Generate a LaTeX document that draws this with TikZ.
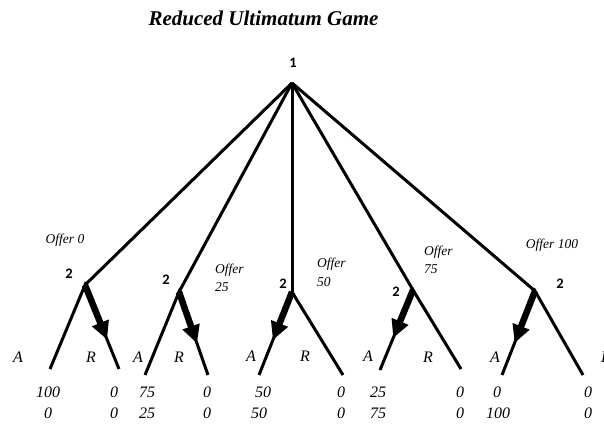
\documentclass[tikz,border=0pt]{standalone}
\usepackage{fontspec}
\setmainfont{Liberation Serif}
\newfontfamily\numfont{Carlito}
\usetikzlibrary{arrows.meta,calc}
\begin{document}
\begin{tikzpicture}[x=1pt,y=-1pt,
  branch/.style={line width=3pt},
  choice/.style={line width=6.5pt,-{Triangle[length=18pt,width=17pt]}},
  player/.style={font=\numfont\bfseries\fontsize{14.5}{16}\selectfont,inner sep=0pt},
  act/.style={font=\itshape\fontsize{16}{18}\selectfont,inner sep=0pt},
  pay/.style={font=\itshape\fontsize{16}{18}\selectfont,inner sep=0pt},
  offer/.style={font=\itshape\fontsize{13.5}{17}\selectfont,inner sep=0pt},
  titlestyle/.style={font=\bfseries\itshape\fontsize{21}{24}\selectfont,inner sep=0pt}]
\useasboundingbox (0,0) rectangle (604,423);

\node[titlestyle] (title) at (263.5,18) {Reduced Ultimatum Game};

% root
\coordinate (r) at (292,83);
\node[player] (l1) at (293,63) {1};

% player 2 decision points
\coordinate (p1) at (85,285);
\coordinate (p2) at (179,292);
\coordinate (p3) at (292,292);
\coordinate (p4) at (413,290);
\coordinate (p5) at (535,291);

% leaves
\coordinate (a1) at (50,369);  \coordinate (b1) at (119,369);
\coordinate (a2) at (145,375); \coordinate (b2) at (208,375);
\coordinate (a3) at (259,375); \coordinate (b3) at (343,375);
\coordinate (a4) at (380,370); \coordinate (b4) at (461,369);
\coordinate (a5) at (502,375); \coordinate (b5) at (583,375);

\foreach \i in {1,...,5}{
  \draw[branch] (r) -- (p\i);
  \draw[branch] (a\i) -- (p\i) -- (b\i);
}

% chosen responses
\draw[choice] (p1) -- ($(p1)!0.65!(b1)$);
\draw[choice] (p2) -- ($(p2)!0.62!(b2)$);
\draw[choice] (p3) -- ($(p3)!0.58!(a3)$);
\draw[choice] (p4) -- ($(p4)!0.60!(a4)$);
\draw[choice] (p5) -- ($(p5)!0.62!(a5)$);

% player labels
\node[player] (q1) at (69,274) {2};
\node[player] (q2) at (166,280) {2};
\node[player] (q3) at (283,284) {2};
\node[player] (q4) at (396,292) {2};
\node[player] (q5) at (560,284) {2};

% offer labels
\node[offer] (o1) at (65,240) {Offer 0};
\node[offer,anchor=west] (o2a) at (215,270) {Offer};
\node[offer,anchor=west] (o2b) at (215,287) {25};
\node[offer,anchor=west] (o3a) at (317,264) {Offer};
\node[offer,anchor=west] (o3b) at (317,282) {50};
\node[offer,anchor=west] (o4a) at (424,252) {Offer};
\node[offer,anchor=west] (o4b) at (424,269) {75};
\node[offer] (o5) at (552,245) {Offer 100};

% actions
\node[act] (A1) at (18,357) {A};  \node[act] (R1) at (91,357) {R};
\node[act] (A2) at (138,357) {A}; \node[act] (R2) at (179,357) {R};
\node[act] (A3) at (251,356) {A}; \node[act] (R3) at (305,356) {R};
\node[act] (A4) at (368,356) {A}; \node[act] (R4) at (428,357) {R};
\node[act] (A5) at (495,357) {A}; \node[act] (R5) at (606,357) {R};

% payoffs
\node[pay] (x1) at (48,392) {100}; \node[pay] (y1) at (48,413) {0};
\node[pay] (x2) at (114,392) {0};  \node[pay] (y2) at (114,413) {0};
\node[pay] (x3) at (147,392) {75}; \node[pay] (y3) at (147,413) {25};
\node[pay] (x4) at (207,392) {0};  \node[pay] (y4) at (207,413) {0};
\node[pay] (x5) at (263,392) {50}; \node[pay] (y5) at (259,413) {50};
\node[pay] (x6) at (341,392) {0};  \node[pay] (y6) at (341,413) {0};
\node[pay] (x7) at (378,392) {25}; \node[pay] (y7) at (378,413) {75};
\node[pay] (x8) at (460,392) {0};  \node[pay] (y8) at (460,413) {0};
\node[pay] (x9) at (497,392) {0};  \node[pay] (y9) at (498,413) {100};
\node[pay] (x10) at (588,392) {0}; \node[pay] (y10) at (588,413) {0};
\end{tikzpicture}
\end{document}
